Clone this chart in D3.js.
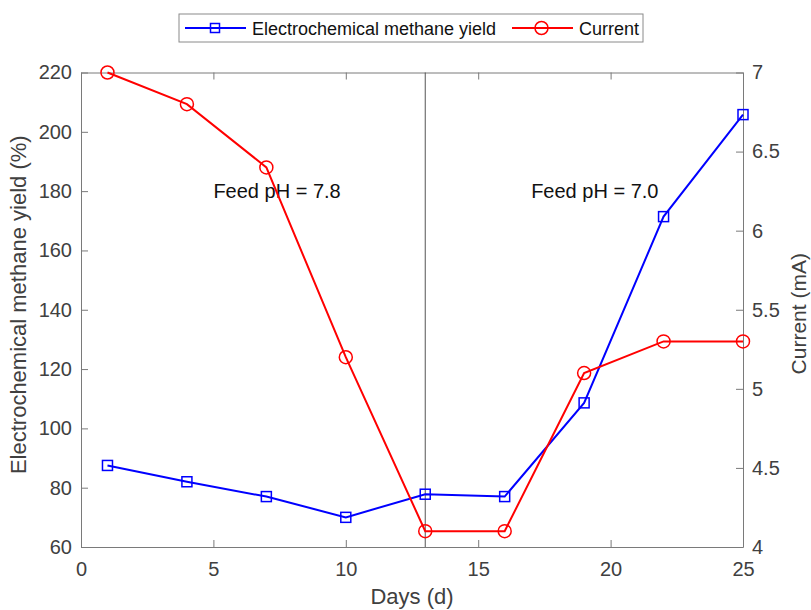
<!DOCTYPE html>
<html>
<head>
<meta charset="utf-8">
<script src="https://cdn.jsdelivr.net/npm/d3@7"></script>
<style>
    body { margin: 0; background: #fff; }
    svg { display: block; font-family: "Liberation Sans", Arial, sans-serif; }
</style>
</head>
<body>
<div id="chart"></div>
<script>
const days = [1, 4, 7, 10, 13, 16, 19, 22, 25];
const methaneYield = [87.5, 82, 77, 70, 77.8, 77, 108.6, 171.4, 205.8];
const current = [7.0, 6.8, 6.4, 5.2, 4.1, 4.1, 5.1, 5.3, 5.3];

const xTicks = [0, 5, 10, 15, 20, 25];
const yieldTicks = [60, 80, 100, 120, 140, 160, 180, 200, 220];
const currentTicks = [4, 4.5, 5, 5.5, 6, 6.5, 7];

const phChangeDay = 13;
const notes = [
    { day: 5.0, value: 180, text: "Feed pH = 7.8" },
    { day: 17.0, value: 180, text: "Feed pH = 7.0" }
];

const width = 811, height = 610;
const margin = { left: 81, right: 68, top: 72.5, bottom: 63 };
const axisColor = "#7a7a7a", labelColor = "#404040";
const blue = "#0000ff", red = "#ff0000";

const svg = d3.select("#chart")
    .append("svg")
    .attr("width", width)
    .attr("height", height);

const x = d3.scaleLinear().domain([0, 25]).range([margin.left, width - margin.right]);
const yL = d3.scaleLinear().domain([60, 220]).range([height - margin.bottom, margin.top]);
const yR = d3.scaleLinear().domain([4, 7]).range([height - margin.bottom, margin.top]);

const styleAxis = (g, size) => {
    g.select(".domain").attr("stroke", axisColor).attr("stroke-width", 1);
    g.selectAll(".tick line").attr("stroke", axisColor);
    g.selectAll(".tick text")
        .attr("fill", labelColor)
        .style("font-size", size + "px");
};

// axes (ticks point inwards)
svg.append("g")
    .attr("transform", `translate(0,${yL.range()[0]})`)
    .call(d3.axisBottom(x).tickValues(xTicks).tickSize(-7).tickSizeOuter(0).tickPadding(15))
    .call(g => styleAxis(g, 20));

svg.append("g")
    .attr("transform", `translate(0,${yL.range()[1]})`)
    .call(d3.axisTop(x).tickValues(xTicks).tickSize(-7).tickSizeOuter(0).tickFormat(""))
    .call(g => styleAxis(g, 20));

svg.append("g")
    .attr("transform", `translate(${x.range()[0]},0)`)
    .call(d3.axisLeft(yL).tickValues(yieldTicks).tickSize(-7).tickSizeOuter(0).tickPadding(9))
    .call(g => styleAxis(g, 20));

svg.append("g")
    .attr("transform", `translate(${x.range()[1]},0)`)
    .call(d3.axisRight(yR).tickValues(currentTicks).tickSize(-7).tickSizeOuter(0).tickPadding(9)
        .tickFormat(d3.format("~g")))
    .call(g => styleAxis(g, 20));

// axis titles
const midY = (yL.range()[0] + yL.range()[1]) / 2;

svg.append("text")
    .attr("x", (x.range()[0] + x.range()[1]) / 2)
    .attr("y", 604)
    .attr("text-anchor", "middle")
    .attr("fill", labelColor)
    .style("font-size", "22px")
    .text("Days (d)");

svg.append("text")
    .attr("transform", `translate(26,${midY - 5}) rotate(-90)`)
    .attr("text-anchor", "middle")
    .attr("fill", labelColor)
    .style("font-size", "22px")
    .text("Electrochemical methane yield (%)");

svg.append("text")
    .attr("transform", `translate(806,${midY + 4}) rotate(-90)`)
    .attr("text-anchor", "middle")
    .attr("fill", labelColor)
    .style("font-size", "21px")
    .text("Current (mA)");

// divider at pH change
svg.append("line")
    .attr("x1", x(phChangeDay)).attr("x2", x(phChangeDay))
    .attr("y1", yL.range()[0]).attr("y2", yL.range()[1])
    .attr("stroke", "#555")
    .attr("stroke-width", 1);

svg.selectAll(".note")
    .data(notes)
    .join("text")
    .attr("class", "note")
    .attr("x", d => x(d.day))
    .attr("y", d => yL(d.value) + 7)
    .attr("fill", "#111")
    .style("font-size", "20px")
    .text(d => d.text);

// series
const yieldPts = days.map((d, i) => [x(d), yL(methaneYield[i])]);
const currentPts = days.map((d, i) => [x(d), yR(current[i])]);

const line = d3.line();

svg.append("path")
    .attr("d", line(yieldPts))
    .attr("fill", "none")
    .attr("stroke", blue)
    .attr("stroke-width", 2);

svg.selectAll(".sq")
    .data(yieldPts)
    .join("rect")
    .attr("class", "sq")
    .attr("x", d => d[0] - 5)
    .attr("y", d => d[1] - 5)
    .attr("width", 10)
    .attr("height", 10)
    .attr("fill", "none")
    .attr("stroke", blue)
    .attr("stroke-width", 1.5);

svg.append("path")
    .attr("d", line(currentPts))
    .attr("fill", "none")
    .attr("stroke", red)
    .attr("stroke-width", 2);

svg.selectAll(".ci")
    .data(currentPts)
    .join("circle")
    .attr("class", "ci")
    .attr("cx", d => d[0])
    .attr("cy", d => d[1])
    .attr("r", 6.5)
    .attr("fill", "none")
    .attr("stroke", red)
    .attr("stroke-width", 1.5);

// legend
const legend = svg.append("g").attr("transform", "translate(179,14)");

legend.append("rect")
    .attr("width", 464)
    .attr("height", 28)
    .attr("fill", "#fff")
    .attr("stroke", "#8a8a8a")
    .attr("stroke-width", 1);

const items = [
    { label: "Electrochemical methane yield", color: blue, shape: "square", x0: 6 },
    { label: "Current", color: red, shape: "circle", x0: 333 }
];

items.forEach(it => {
    const g = legend.append("g").attr("transform", `translate(${it.x0},14)`);
    g.append("line")
        .attr("x1", 0).attr("x2", 61)
        .attr("stroke", it.color)
        .attr("stroke-width", 2);
    if (it.shape === "square") {
        g.append("rect")
            .attr("x", 25.5).attr("y", -4.5)
            .attr("width", 9).attr("height", 9)
            .attr("fill", "none")
            .attr("stroke", it.color)
            .attr("stroke-width", 1.5);
    } else {
        g.append("circle")
            .attr("cx", 29.5).attr("r", 6.5)
            .attr("fill", "none")
            .attr("stroke", it.color)
            .attr("stroke-width", 1.5);
    }
    g.append("text")
        .attr("x", 67)
        .attr("y", 7)
        .attr("fill", "#111")
        .style("font-size", "18px")
        .text(it.label);
});
</script>
</body>
</html>
